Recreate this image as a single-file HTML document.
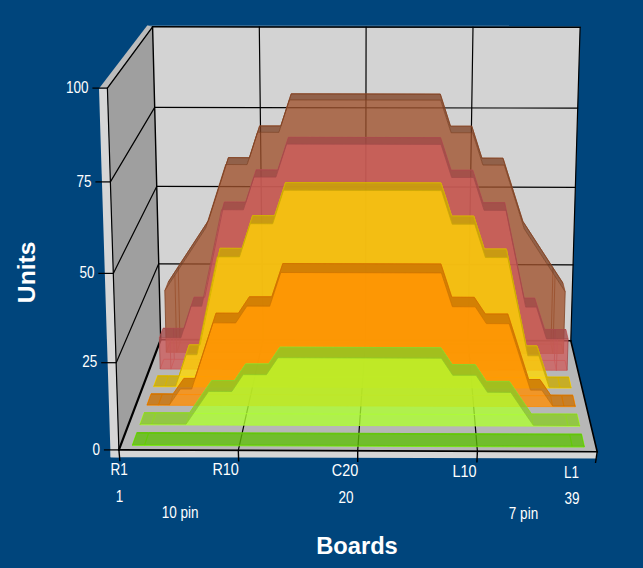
<!DOCTYPE html>
<html><head><meta charset="utf-8"><title>Boards / Units</title>
<style>html,body{margin:0;padding:0;background:#00457c;overflow:hidden}svg{display:block}</style></head>
<body>
<svg width="643" height="568" viewBox="0 0 643 568">
<style>.s1f{fill:rgb(118,240,8)}.s1t{fill:rgb(93,190,6)}.s1h{stroke:rgb(118,240,8)}.s1b{stroke:rgb(94,192,6)}.s2f{fill:rgb(173,255,47)}.s2t{fill:rgb(137,201,37)}.s2h{stroke:rgb(173,255,47)}.s2b{stroke:rgb(138,204,38)}.s3f{fill:rgb(255,140,0)}.s3t{fill:rgb(201,111,0)}.s3h{stroke:rgb(255,140,0)}.s3b{stroke:rgb(204,112,0)}.s4f{fill:rgb(255,215,0)}.s4t{fill:rgb(201,170,0)}.s4h{stroke:rgb(255,215,0)}.s4b{stroke:rgb(204,172,0)}.s5f{fill:rgb(205,92,92)}.s5t{fill:rgb(162,73,73)}.s5h{stroke:rgb(205,92,92)}.s5b{stroke:rgb(164,74,74)}.s6f{fill:rgb(160,82,45)}.s6t{fill:rgb(126,65,36)}.s6h{stroke:rgb(160,82,45)}.s6b{stroke:rgb(128,66,36)}.ser polygon{fill-opacity:0.784;stroke:none}.ser path{fill:none;stroke-opacity:0.784;stroke-width:1;stroke-linejoin:round}text{font-family:'Liberation Sans',sans-serif;fill:#fff}.lb{font-size:16px}.ly{font-size:17.3px}.tt{font-size:23.7px;font-weight:bold}</style>
<rect width="643" height="568" fill="#00457c"/>
<polygon points="99.0,88.6 107.4,88.1 152.6,26.8 147.2,25.5" style="fill:#bcbcbc"/>
<polygon points="99.0,88.6 107.4,88.1 118.9,449.9 118.9,457.4 110.6,457.2" style="fill:#d6d6d6"/>
<polygon points="110.6,449.9 597.2,451.7 596.9,458.6 110.6,457.2" style="fill:#d6d6d6"/>
<line x1="147.4" y1="25.9" x2="580.2" y2="26.1" stroke="#d3d3d3" stroke-opacity="0.33" stroke-width="1.2"/>
<polygon points="118.9,449.9 107.4,88.1 152.6,26.8 160.7,339.6" style="fill:#9f9f9f"/>
<polygon points="160.7,339.6 152.6,26.8 580.1,27.3 570.8,340.8" style="fill:#d3d3d3"/>
<polygon points="118.9,449.9 160.7,339.6 570.8,340.8 597.2,451.7" style="fill:#b7b7b7"/>
<g stroke-linecap="round"><line x1="116.2" y1="362.7" x2="158.7" y2="263.8" stroke="#000" stroke-width="1.2"/><line x1="158.7" y1="263.8" x2="573.1" y2="264.8" stroke="#000" stroke-width="1.2"/><line x1="113.3" y1="273.4" x2="156.7" y2="186.4" stroke="#000" stroke-width="1.2"/><line x1="156.7" y1="186.4" x2="575.4" y2="187.3" stroke="#000" stroke-width="1.2"/><line x1="110.4" y1="181.9" x2="154.7" y2="107.4" stroke="#000" stroke-width="1.2"/><line x1="154.7" y1="107.4" x2="577.7" y2="108.1" stroke="#000" stroke-width="1.2"/><line x1="263.0" y1="339.9" x2="259.3" y2="26.9" stroke="#000" stroke-width="1.2"/><line x1="238.3" y1="450.3" x2="263.0" y2="339.9" stroke="#000" stroke-width="1.2"/><line x1="365.5" y1="340.2" x2="366.1" y2="27.0" stroke="#000" stroke-width="1.2"/><line x1="357.7" y1="450.8" x2="365.5" y2="340.2" stroke="#000" stroke-width="1.2"/><line x1="468.1" y1="340.5" x2="473.0" y2="27.2" stroke="#000" stroke-width="1.2"/><line x1="477.4" y1="451.2" x2="468.1" y2="340.5" stroke="#000" stroke-width="1.2"/><line x1="107.4" y1="88.1" x2="152.6" y2="26.8" stroke="#000" stroke-width="1.4"/><line x1="152.6" y1="26.8" x2="580.1" y2="27.3" stroke="#000" stroke-width="1.5"/><line x1="152.6" y1="26.8" x2="160.7" y2="339.6" stroke="#000" stroke-width="1.4"/><line x1="580.1" y1="27.3" x2="570.8" y2="340.8" stroke="#000" stroke-width="1.2"/><line x1="107.4" y1="88.1" x2="118.9" y2="449.9" stroke="#000" stroke-width="1.2"/><line x1="118.9" y1="449.9" x2="160.7" y2="339.6" stroke="#000" stroke-width="2.2"/><line x1="160.7" y1="339.6" x2="570.8" y2="340.8" stroke="#000" stroke-width="1.6"/><line x1="570.8" y1="340.8" x2="597.2" y2="451.7" stroke="#000" stroke-width="1.6"/><line x1="118.9" y1="449.9" x2="597.2" y2="451.7" stroke="#000" stroke-width="1.6"/></g>
<g class="ser"><path d="M168.2 282.2 L178.2 266.8 L208.5 220.4 L228.4 157.6 L249.5 157.7 L259.6 125.9 L280.8 125.9 L291.2 93.8 L440.3 94.1 L450.5 126.2 L471.8 126.2 L481.9 158.1 L503.0 158.2 L522.8 221.2 L553.0 267.8 L563.0 283.2M169.7 342.9 L561.3 344.1M166.3 352.3 L563.4 353.5M166.3 352.3 L169.7 342.9M176.7 352.3 L180.0 343.0M552.9 353.4 L551.0 344.1M563.4 353.5 L561.3 344.1M164.8 290.7 L168.2 282.2M565.2 291.8 L563.0 283.2" class="s6h"/>
<path d="M180.0 343.0 L178.2 266.8M176.7 352.3 L174.9 275.2M551.0 344.1 L553.0 267.8M552.9 353.4 L555.0 276.1" class="s6b"/>
<polygon points="164.8,290.7 174.9,275.2 205.6,228.2 208.5,220.4 178.2,266.8 168.2,282.2" class="s6t"/>
<polygon points="225.7,164.5 247.1,164.6 249.5,157.7 228.4,157.6" class="s6t"/>
<polygon points="257.4,132.3 278.9,132.4 289.4,99.9 440.7,100.1 451.1,132.7 472.6,132.7 482.9,165.0 504.3,165.1 524.3,228.9 555.0,276.1 565.2,291.8 563.0,283.2 553.0,267.8 522.8,221.2 503.0,158.2 481.9,158.1 471.8,126.2 450.5,126.2 440.3,94.1 291.2,93.8 280.8,125.9 259.6,125.9" class="s6t"/>
<polygon points="166.3,352.3 164.8,290.7 174.9,275.2 205.6,228.2 225.7,164.5 247.1,164.6 257.4,132.3 278.9,132.4 289.4,99.9 440.7,100.1 451.1,132.7 472.6,132.7 482.9,165.0 504.3,165.1 524.3,228.9 555.0,276.1 565.2,291.8 563.4,353.5" class="s6f"/>
<path d="M166.3 352.3 L164.8 290.7 L174.9 275.2 L205.6 228.2 L225.7 164.5 L247.1 164.6 L257.4 132.3 L278.9 132.4 L289.4 99.9 L440.7 100.1 L451.1 132.7 L472.6 132.7 L482.9 165.0 L504.3 165.1 L524.3 228.9 L555.0 276.1 L565.2 291.8 L563.4 353.5" class="s6b"/>
<path d="M168.2 282.2 L178.2 266.8 L208.5 220.4 L228.4 157.6 L249.5 157.7 L259.6 125.9 L280.8 125.9 L291.2 93.8 L440.3 94.1 L450.5 126.2 L471.8 126.2 L481.9 158.1 L503.0 158.2 L522.8 221.2 L553.0 267.8 L563.0 283.2" class="s6b"/>
<path d="M163.0 328.3 L173.5 328.4 L184.1 328.4 L194.0 297.2 L204.7 297.2 L224.3 202.0 L245.8 202.1 L256.2 169.8 L277.8 169.9 L288.4 137.3 L440.6 137.6 L451.1 170.2 L472.8 170.2 L483.1 202.6 L504.7 202.6 L524.1 298.1 L534.7 298.1 L544.6 329.4 L555.2 329.5 L565.9 329.5M163.8 359.3 L565.0 360.5M160.2 369.0 L567.1 370.3M160.2 369.0 L163.8 359.3M170.9 369.1 L174.3 359.3M556.4 370.3 L554.4 360.5M567.1 370.3 L565.0 360.5M159.4 337.7 L163.0 328.3M568.1 338.9 L565.9 329.5" class="s5h"/>
<path d="M174.3 359.3 L173.5 328.4M170.9 369.1 L170.1 337.7M554.4 360.5 L555.2 329.5M556.4 370.3 L557.3 338.9" class="s5b"/>
<polygon points="159.4,337.7 170.1,337.7 180.9,337.8 184.1,328.4 173.5,328.4 163.0,328.3" class="s5t"/>
<polygon points="190.9,306.2 201.7,306.2 204.7,297.2 194.0,297.2" class="s5t"/>
<polygon points="221.6,209.7 243.4,209.8 253.9,177.1 275.9,177.1 286.6,144.1 441.0,144.4 451.7,177.5 473.7,177.5 484.1,210.3 506.0,210.4 525.7,307.1 536.5,307.1 546.5,338.9 557.3,338.9 568.1,338.9 565.9,329.5 555.2,329.5 544.6,329.4 534.7,298.1 524.1,298.1 504.7,202.6 483.1,202.6 472.8,170.2 451.1,170.2 440.6,137.6 288.4,137.3 277.8,169.9 256.2,169.8 245.8,202.1 224.3,202.0" class="s5t"/>
<polygon points="160.2,369.0 159.4,337.7 170.1,337.7 180.9,337.8 190.9,306.2 201.7,306.2 221.6,209.7 243.4,209.8 253.9,177.1 275.9,177.1 286.6,144.1 441.0,144.4 451.7,177.5 473.7,177.5 484.1,210.3 506.0,210.4 525.7,307.1 536.5,307.1 546.5,338.9 557.3,338.9 568.1,338.9 567.1,370.3" class="s5f"/>
<path d="M160.2 369.0 L159.4 337.7 L170.1 337.7 L180.9 337.8 L190.9 306.2 L201.7 306.2 L221.6 209.7 L243.4 209.8 L253.9 177.1 L275.9 177.1 L286.6 144.1 L441.0 144.4 L451.7 177.5 L473.7 177.5 L484.1 210.3 L506.0 210.4 L525.7 307.1 L536.5 307.1 L546.5 338.9 L557.3 338.9 L568.1 338.9 L567.1 370.3" class="s5b"/>
<path d="M163.0 328.3 L173.5 328.4 L184.1 328.4 L194.0 297.2 L204.7 297.2 L224.3 202.0 L245.8 202.1 L256.2 169.8 L277.8 169.9 L288.4 137.3 L440.6 137.6 L451.1 170.2 L472.8 170.2 L483.1 202.6 L504.7 202.6 L524.1 298.1 L534.7 298.1 L544.6 329.4 L555.2 329.5 L565.9 329.5" class="s5b"/>
<path d="M157.5 375.8 L168.3 375.8 L179.1 375.9 L189.2 344.9 L200.1 344.9 L220.1 248.3 L242.1 248.4 L252.6 215.6 L274.7 215.7 L285.5 182.6 L441.0 182.9 L451.7 216.1 L473.8 216.1 L484.3 249.0 L506.4 249.0 L526.2 345.9 L537.0 345.9 L547.1 377.0 L558.0 377.1 L568.8 377.1M157.5 376.4 L568.8 377.7M153.8 386.7 L571.1 388.1M153.8 386.7 L157.5 376.4M164.8 386.7 L168.3 376.4M164.8 386.7 L168.3 376.4M175.7 386.8 L179.1 376.5M549.1 388.0 L547.1 377.7M560.1 388.0 L557.9 377.7M560.1 388.0 L557.9 377.7M571.1 388.1 L568.8 377.7M153.8 386.0 L157.5 375.8M571.1 387.4 L568.8 377.1" class="s4h"/>
<polygon points="153.8,386.0 164.8,386.1 175.7,386.1 179.1,375.9 168.3,375.8 157.5,375.8" class="s4t"/>
<polygon points="186.0,354.7 197.0,354.7 200.1,344.9 189.2,344.9" class="s4t"/>
<polygon points="217.2,256.9 239.5,256.9 250.2,223.7 272.7,223.8 283.6,190.2 441.4,190.6 452.2,224.2 474.7,224.2 485.4,257.5 507.8,257.6 527.8,355.8 538.9,355.8 549.1,387.3 560.1,387.4 571.1,387.4 568.8,377.1 558.0,377.1 547.1,377.0 537.0,345.9 526.2,345.9 506.4,249.0 484.3,249.0 473.8,216.1 451.7,216.1 441.0,182.9 285.5,182.6 274.7,215.7 252.6,215.6 242.1,248.4 220.1,248.3" class="s4t"/>
<polygon points="153.8,386.7 153.8,386.0 164.8,386.1 175.7,386.1 186.0,354.7 197.0,354.7 217.2,256.9 239.5,256.9 250.2,223.7 272.7,223.8 283.6,190.2 441.4,190.6 452.2,224.2 474.7,224.2 485.4,257.5 507.8,257.6 527.8,355.8 538.9,355.8 549.1,387.3 560.1,387.4 571.1,387.4 571.1,388.1" class="s4f"/>
<path d="M153.8 386.7 L153.8 386.0 L164.8 386.1 L175.7 386.1 L186.0 354.7 L197.0 354.7 L217.2 256.9 L239.5 256.9 L250.2 223.7 L272.7 223.8 L283.6 190.2 L441.4 190.6 L452.2 224.2 L474.7 224.2 L485.4 257.5 L507.8 257.6 L527.8 355.8 L538.9 355.8 L549.1 387.3 L560.1 387.4 L571.1 387.4 L571.1 388.1" class="s4b"/>
<path d="M157.5 375.8 L168.3 375.8 L179.1 375.9 L189.2 344.9 L200.1 344.9 L220.1 248.3 L242.1 248.4 L252.6 215.6 L274.7 215.7 L285.5 182.6 L441.0 182.9 L451.7 216.1 L473.8 216.1 L484.3 249.0 L506.4 249.0 L526.2 345.9 L537.0 345.9 L547.1 377.0 L558.0 377.1 L568.8 377.1" class="s4b"/>
<path d="M151.0 393.8 L162.1 393.8 L173.1 393.9 L183.9 378.4 L195.0 378.4 L216.0 313.1 L238.4 313.2 L249.4 296.7 L271.8 296.7 L282.8 263.5 L440.9 263.9 L451.8 297.2 L474.3 297.3 L485.3 313.9 L507.8 313.9 L528.7 379.5 L539.9 379.5 L550.6 395.1 L561.7 395.2 L572.9 395.2M151.0 394.4 L572.8 395.8M147.1 405.2 L575.2 406.7M147.1 405.2 L151.0 394.4M158.3 405.3 L162.1 394.5M158.3 405.3 L162.1 394.5M169.6 405.3 L173.1 394.5M552.7 406.6 L550.6 395.8M564.0 406.7 L561.7 395.8M564.0 406.7 L561.7 395.8M575.2 406.7 L572.8 395.8M147.1 404.6 L151.0 393.8M575.3 406.0 L572.9 395.2" class="s3h"/>
<polygon points="147.1,404.6 158.3,404.6 169.5,404.7 180.4,389.0 191.7,389.0 213.0,322.8 235.7,322.9 246.9,306.1 269.7,306.2 280.8,272.5 441.4,272.9 452.4,306.7 475.3,306.8 486.4,323.6 509.2,323.7 530.5,390.1 541.8,390.2 552.7,406.0 564.0,406.0 575.3,406.0 572.9,395.2 561.7,395.2 550.6,395.1 539.9,379.5 528.7,379.5 507.8,313.9 485.3,313.9 474.3,297.3 451.8,297.2 440.9,263.9 282.8,263.5 271.8,296.7 249.4,296.7 238.4,313.2 216.0,313.1 195.0,378.4 183.9,378.4 173.1,393.9 162.1,393.8 151.0,393.8" class="s3t"/>
<polygon points="147.1,405.2 147.1,404.6 158.3,404.6 169.5,404.7 180.4,389.0 191.7,389.0 213.0,322.8 235.7,322.9 246.9,306.1 269.7,306.2 280.8,272.5 441.4,272.9 452.4,306.7 475.3,306.8 486.4,323.6 509.2,323.7 530.5,390.1 541.8,390.2 552.7,406.0 564.0,406.0 575.3,406.0 575.2,406.7" class="s3f"/>
<path d="M147.1 405.2 L147.1 404.6 L158.3 404.6 L169.5 404.7 L180.4 389.0 L191.7 389.0 L213.0 322.8 L235.7 322.9 L246.9 306.1 L269.7 306.2 L280.8 272.5 L441.4 272.9 L452.4 306.7 L475.3 306.8 L486.4 323.6 L509.2 323.7 L530.5 390.1 L541.8 390.2 L552.7 406.0 L564.0 406.0 L575.3 406.0 L575.2 406.7" class="s3b"/>
<path d="M151.0 393.8 L162.1 393.8 L173.1 393.9 L183.9 378.4 L195.0 378.4 L216.0 313.1 L238.4 313.2 L249.4 296.7 L271.8 296.7 L282.8 263.5 L440.9 263.9 L451.8 297.2 L474.3 297.3 L485.3 313.9 L507.8 313.9 L528.7 379.5 L539.9 379.5 L550.6 395.1 L561.7 395.2 L572.9 395.2" class="s3b"/>
<path d="M144.1 412.6 L155.5 412.6 L189.6 412.7 L200.6 396.7 L211.7 380.5 L234.5 380.5 L245.7 363.9 L268.7 363.9 L279.9 347.2 L440.9 347.7 L452.2 364.5 L475.2 364.6 L486.3 381.4 L509.3 381.4 L520.4 397.7 L531.4 413.9 L565.7 414.0 L577.1 414.1M144.1 413.4 L577.1 414.9M140.0 424.8 L579.6 426.3M140.0 424.8 L144.1 413.4M151.5 424.8 L155.5 413.4M151.5 424.8 L155.5 413.4M186.2 425.0 L189.6 413.6M533.2 426.2 L531.4 414.7M568.0 426.3 L565.7 414.9M568.0 426.3 L565.7 414.9M579.6 426.3 L577.1 414.9M140.0 424.0 L144.1 412.6M579.7 425.5 L577.1 414.1" class="s2h"/>
<polygon points="140.0,424.0 151.5,424.0 186.1,424.1 197.3,407.8 208.6,391.4 231.8,391.5 243.2,374.6 266.4,374.7 277.9,357.7 441.4,358.2 452.8,375.3 476.1,375.3 487.5,392.3 510.8,392.4 522.0,408.9 533.3,425.3 568.0,425.5 579.7,425.5 577.1,414.1 565.7,414.0 531.4,413.9 520.4,397.7 509.3,381.4 486.3,381.4 475.2,364.6 452.2,364.5 440.9,347.7 279.9,347.2 268.7,363.9 245.7,363.9 234.5,380.5 211.7,380.5 200.6,396.7 189.6,412.7 155.5,412.6 144.1,412.6" class="s2t"/>
<polygon points="140.0,424.8 140.0,424.0 151.5,424.0 186.1,424.1 197.3,407.8 208.6,391.4 231.8,391.5 243.2,374.6 266.4,374.7 277.9,357.7 441.4,358.2 452.8,375.3 476.1,375.3 487.5,392.3 510.8,392.4 522.0,408.9 533.3,425.3 568.0,425.5 579.7,425.5 579.6,426.3" class="s2f"/>
<path d="M140.0 424.8 L140.0 424.0 L151.5 424.0 L186.1 424.1 L197.3 407.8 L208.6 391.4 L231.8 391.5 L243.2 374.6 L266.4 374.7 L277.9 357.7 L441.4 358.2 L452.8 375.3 L476.1 375.3 L487.5 392.3 L510.8 392.4 L522.0 408.9 L533.3 425.3 L568.0 425.5 L579.7 425.5 L579.6 426.3" class="s2b"/>
<path d="M144.1 412.6 L155.5 412.6 L189.6 412.7 L200.6 396.7 L211.7 380.5 L234.5 380.5 L245.7 363.9 L268.7 363.9 L279.9 347.2 L440.9 347.7 L452.2 364.5 L475.2 364.6 L486.3 381.4 L509.3 381.4 L520.4 397.7 L531.4 413.9 L565.7 414.0 L577.1 414.1" class="s2b"/>
<path d="M136.8 432.6 L148.5 432.6 L569.8 434.1 L581.6 434.1M136.9 433.4 L581.6 435.0M132.5 445.4 L584.2 447.1M132.5 445.4 L136.9 433.4M144.4 445.5 L148.5 433.4M144.4 445.5 L148.5 433.4M572.3 447.0 L569.8 435.0M572.3 447.0 L569.8 435.0M584.2 447.1 L581.6 435.0M132.5 444.6 L136.8 432.6M584.3 446.2 L581.6 434.1" class="s1h"/>
<polygon points="132.5,444.6 144.3,444.6 572.3,446.2 584.3,446.2 581.6,434.1 569.8,434.1 148.5,432.6 136.8,432.6" class="s1t"/>
<polygon points="132.5,445.4 132.5,444.6 144.3,444.6 572.3,446.2 584.3,446.2 584.2,447.1" class="s1f"/>
<path d="M132.5 445.4 L132.5 444.6 L144.3 444.6 L572.3 446.2 L584.3 446.2 L584.2 447.1" class="s1b"/>
<path d="M136.8 432.6 L148.5 432.6 L569.8 434.1 L581.6 434.1" class="s1b"/></g>
<line x1="103.9" y1="449.9" x2="118.9" y2="449.9" stroke="#000" stroke-width="1.25"/><text class="ly" transform="translate(100.0,454.5) scale(0.78,1)" text-anchor="end">0</text><line x1="101.2" y1="362.7" x2="116.2" y2="362.7" stroke="#000" stroke-width="1.25"/><text class="ly" transform="translate(97.3,367.3) scale(0.78,1)" text-anchor="end">25</text><line x1="98.3" y1="273.4" x2="113.3" y2="273.4" stroke="#000" stroke-width="1.25"/><text class="ly" transform="translate(94.4,278.0) scale(0.78,1)" text-anchor="end">50</text><line x1="95.4" y1="181.9" x2="110.4" y2="181.9" stroke="#000" stroke-width="1.25"/><text class="ly" transform="translate(91.5,186.5) scale(0.78,1)" text-anchor="end">75</text><line x1="92.4" y1="88.1" x2="107.4" y2="88.1" stroke="#000" stroke-width="1.25"/><text class="ly" transform="translate(88.5,92.7) scale(0.78,1)" text-anchor="end">100</text><line x1="118.9" y1="449.9" x2="119.9" y2="461.2" stroke="#000" stroke-width="1.4"/><text class="lb" transform="translate(119.2,474.5) scale(0.845,1)" text-anchor="middle">R1</text><line x1="238.3" y1="450.3" x2="238.7" y2="461.6" stroke="#000" stroke-width="1.4"/><text class="lb" transform="translate(225.6,475.2) scale(0.9,1)" text-anchor="middle">R10</text><line x1="357.7" y1="450.8" x2="357.7" y2="462.1" stroke="#000" stroke-width="1.4"/><text class="lb" transform="translate(345.0,476.0) scale(0.9,1)" text-anchor="middle">C20</text><line x1="477.4" y1="451.2" x2="476.9" y2="462.5" stroke="#000" stroke-width="1.4"/><text class="lb" transform="translate(464.6,476.7) scale(0.9,1)" text-anchor="middle">L10</text><line x1="597.2" y1="451.7" x2="595.5" y2="463.0" stroke="#000" stroke-width="1.4"/><text class="lb" transform="translate(571.5,477.5) scale(0.845,1)" text-anchor="middle">L1</text><text class="lb" transform="translate(119.5,501.8) scale(0.845,1)" text-anchor="middle">1</text><text class="lb" transform="translate(345.9,502.8) scale(0.845,1)" text-anchor="middle">20</text><text class="lb" transform="translate(572.0,503.6) scale(0.845,1)" text-anchor="middle">39</text><text class="lb" transform="translate(180.2,518.1) scale(0.845,1)" text-anchor="middle">10 pin</text><text class="lb" transform="translate(523.5,518.7) scale(0.845,1)" text-anchor="middle">7 pin</text><text class="tt" x="357.0" y="553.6" text-anchor="middle">Boards</text><text class="tt" style="font-size:24.6px" transform="translate(34.9,272.4) rotate(-90)" text-anchor="middle">Units</text>
</svg>
</body></html>
